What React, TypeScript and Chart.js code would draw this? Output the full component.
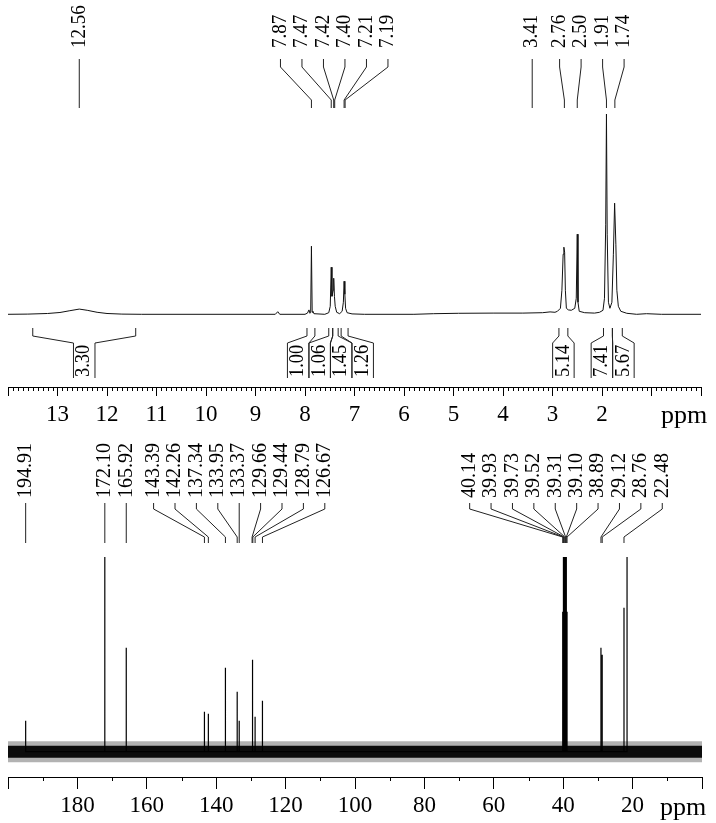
import React, { useEffect, useRef } from "react";
import { Chart, registerables } from "chart.js";
Chart.register(...registerables);

const FONT = "'Liberation Serif', 'Times New Roman', serif";

// ---------- 1H spectrum (ppm, relative intensity) ----------
const H_PPM = [
  14.0, 13.6, 13.2, 12.95, 12.75, 12.56, 12.4, 12.2, 12.0, 11.7, 11.3, 8.6, 8.55, 8.51,
  8.0, 7.95, 7.92, 7.9, 7.885, 7.87, 7.855, 7.84, 7.82, 7.6, 7.52, 7.49, 7.47, 7.455,
  7.43, 7.42, 7.405, 7.39, 7.36, 7.3, 7.25, 7.225, 7.21, 7.195, 7.18, 7.15, 7.05, 6.8,
  5.8, 5.4, 4.9, 4.2, 3.6, 3.2, 3.05, 2.95, 2.9, 2.84, 2.81, 2.785, 2.77, 2.755, 2.74,
  2.72, 2.68, 2.62, 2.55, 2.52, 2.5, 2.485, 2.46, 2.35, 2.15, 2.05, 1.98, 1.95, 1.925,
  1.91, 1.895, 1.87, 1.84, 1.8, 1.77, 1.745, 1.72, 1.7, 1.67, 1.62, 1.5, 1.3, 1.1, 0.8, 0.0,
];
const H_INT = [
  0, 0.1, 0.4, 0.9, 1.8, 2.6, 2.0, 1.0, 0.4, 0.1, 0, 0, 1.3, 0,
  0, 0.6, 2.2, 0.5, 1.0, 34, 1.0, 1.5, 0.3, 0, 0.8, 4, 23.5, 9,
  12, 18, 9, 4, 1, 0.3, 1.5, 6, 16.5, 10, 3, 0.8, 0.2, 0,
  0, 0.3, 0.5, 0.6, 0.6, 0.8, 1.2, 1.0, 1.5, 3, 12, 30, 33.5, 31, 12,
  3, 2.2, 2.0, 3, 8, 40, 6, 1.5, 0.8, 0.6, 1.0, 2, 8, 45,
  100, 40, 6, 3, 6, 30, 55.5, 35, 12, 4, 1.5, 0.5, 0, 0.3, 0, 0,
];
const H_PEAK_LABELS = [12.56, 7.87, 7.47, 7.42, 7.4, 7.21, 7.19, 3.41, 2.76, 2.5, 1.91, 1.74];
const H_INTEGRAL_VALUES = [3.3, 1.0, 1.06, 1.45, 1.26, 5.14, 7.41, 5.67];
const H_INTEGRAL_FROM = [13.5, 7.96, 7.52, 7.44, 7.27, 2.87, 1.97, 1.79];
const H_INTEGRAL_TO = [11.42, 7.8, 7.44, 7.33, 7.13, 2.69, 1.79, 1.59];
const H_TICK_LABELS = [13, 12, 11, 10, 9, 8, 7, 6, 5, 4, 3, 2];

// ---------- 13C spectrum (ppm, relative intensity; >195 is off-scale) ----------
const C_PEAK_PPM = [
  194.91, 172.1, 165.92, 143.39, 142.26, 137.34, 133.95, 133.37, 129.66, 129.44, 128.79, 126.67,
  40.14, 39.93, 39.73, 39.52, 39.31, 39.1, 38.89, 29.12, 28.76, 22.48, 21.6,
];
const C_PEAK_INT = [
  31, 400, 104, 40, 38, 84, 60, 31, 92, 50, 35, 51,
  140, 400, 400, 400, 400, 400, 140, 104, 97, 144, 400,
];
const C_PEAK_LABELS = [
  194.91, 172.1, 165.92, 143.39, 142.26, 137.34, 133.95, 133.37, 129.66, 129.44, 128.79, 126.67,
  40.14, 39.93, 39.73, 39.52, 39.31, 39.1, 38.89, 29.12, 28.76, 22.48,
];
const C_TICK_LABELS = [180, 160, 140, 120, 100, 80, 60, 40, 20];

// spread label positions (pixels, ascending) so neighbours keep a minimum gap
function spread(xs: number[], gap: number, mode: "median" | "mean"): number[] {
  let groups = xs.map((x, i) => ({ idx: [i], center: x }));
  let changed = true;
  while (changed) {
    changed = false;
    for (let i = 0; i < groups.length - 1; i++) {
      const a = groups[i];
      const b = groups[i + 1];
      const aEnd = a.center + ((a.idx.length - 1) * gap) / 2;
      const bStart = b.center - ((b.idx.length - 1) * gap) / 2;
      if (bStart - aEnd < gap - 0.05) {
        const idx = a.idx.concat(b.idx);
        const vals = idx.map((k) => xs[k]).sort((p, q) => p - q);
        let c: number;
        if (mode === "mean") c = vals.reduce((s, v) => s + v, 0) / vals.length;
        else
          c = vals.length % 2
            ? vals[(vals.length - 1) / 2]
            : (vals[vals.length / 2 - 1] + vals[vals.length / 2]) / 2;
        groups.splice(i, 2, { idx, center: c });
        changed = true;
        break;
      }
    }
  }
  const out: number[] = new Array(xs.length);
  groups.forEach((g) =>
    g.idx.forEach((k, j) => {
      out[k] = g.center + (j - (g.idx.length - 1) / 2) * gap;
    })
  );
  return out;
}

function vText(ctx: CanvasRenderingContext2D, s: string, x: number, y: number, size: number, along: number) {
  ctx.save();
  ctx.translate(x, y);
  ctx.rotate(-Math.PI / 2);
  ctx.scale(along, 1);
  ctx.font = `${size}px ${FONT}`;
  ctx.textAlign = "left";
  ctx.textBaseline = "middle";
  ctx.fillStyle = "#000";
  ctx.fillText(s, 0, 0);
  ctx.restore();
}

function peakLabels(
  ctx: CanvasRenderingContext2D,
  xs: any,
  labels: number[],
  gap: number,
  yText: number,
  y0: number,
  y1: number,
  y2: number,
  y3: number,
  size: number,
  along: number
) {
  const px = labels.map((v) => xs.getPixelForValue(v));
  const lx = spread(px, gap, "median");
  ctx.save();
  ctx.strokeStyle = "#222";
  ctx.lineWidth = 1;
  labels.forEach((v, i) => {
    ctx.beginPath();
    ctx.moveTo(lx[i], y0);
    ctx.lineTo(lx[i], y1);
    ctx.lineTo(px[i], y2);
    ctx.lineTo(px[i], y3);
    ctx.stroke();
    vText(ctx, v.toFixed(2), lx[i], yText, size, along);
  });
  ctx.restore();
}

const topPlugin = {
  id: "hAnnotations",
  afterDraw(chart: any) {
    const ctx: CanvasRenderingContext2D = chart.ctx;
    const xs = chart.scales.x;
    const axisY = chart.chartArea.bottom;
    ctx.save();
    // minor ticks
    ctx.strokeStyle = "#000";
    ctx.lineWidth = 1;
    ctx.beginPath();
    for (let k = 0; k <= 140; k++) {
      if (k % 10 === 0) continue;
      const p = Math.round(xs.getPixelForValue(k / 10)) + 0.5;
      ctx.moveTo(p, axisY);
      ctx.lineTo(p, axisY + 4);
    }
    ctx.stroke();
    // ppm
    ctx.font = `26px ${FONT}`;
    ctx.fillStyle = "#000";
    ctx.textAlign = "center";
    ctx.textBaseline = "alphabetic";
    ctx.fillText("ppm", 684, 423);
    // peak labels
    peakLabels(ctx, xs, H_PEAK_LABELS, 21.5, 48, 59, 67, 100, 108, 20, 0.95);
    // integrals
    const x1 = H_INTEGRAL_FROM.map((v) => xs.getPixelForValue(v));
    const x2 = H_INTEGRAL_TO.map((v) => xs.getPixelForValue(v));
    const centers = x1.map((a, i) => (a + x2[i]) / 2);
    const w = 21.5;
    const bc = spread(centers, w, "mean");
    ctx.strokeStyle = "#222";
    H_INTEGRAL_VALUES.forEach((val, i) => {
      ctx.beginPath();
      ctx.moveTo(x1[i], 328);
      ctx.lineTo(x1[i], 336);
      ctx.lineTo(bc[i] - w / 2, 343);
      ctx.lineTo(bc[i] - w / 2, 378);
      ctx.moveTo(x2[i], 328);
      ctx.lineTo(x2[i], 336);
      ctx.lineTo(bc[i] + w / 2, 343);
      ctx.lineTo(bc[i] + w / 2, 378);
      ctx.stroke();
      vText(ctx, val.toFixed(2), bc[i], 377, 20, 0.92);
    });
    ctx.restore();
  },
};

const OFF = 432;
const botPlugin = {
  id: "cAnnotations",
  afterDraw(chart: any) {
    const ctx: CanvasRenderingContext2D = chart.ctx;
    const xs = chart.scales.x;
    const axisY = chart.chartArea.bottom;
    ctx.save();
    ctx.strokeStyle = "#000";
    ctx.lineWidth = 1;
    ctx.beginPath();
    for (let v = 10; v < 200; v += 20) {
      const p = Math.round(xs.getPixelForValue(v)) + 0.5;
      ctx.moveTo(p, axisY);
      ctx.lineTo(p, axisY + 4);
    }
    ctx.stroke();
    ctx.font = `26px ${FONT}`;
    ctx.fillStyle = "#000";
    ctx.textAlign = "center";
    ctx.textBaseline = "alphabetic";
    ctx.fillText("ppm", 683, 815 - OFF);
    peakLabels(ctx, xs, C_PEAK_LABELS, 21.4, 498 - OFF, 503 - OFF, 509 - OFF, 537 - OFF, 543 - OFF, 20, 1);
    ctx.restore();
  },
};

export default function App() {
  const topRef = useRef<HTMLCanvasElement>(null);
  const botRef = useRef<HTMLCanvasElement>(null);

  useEffect(() => {
    const tickFont = { family: FONT, size: 23 };
    const c1 = new Chart(topRef.current as HTMLCanvasElement, {
      type: "line",
      data: {
        datasets: [
          {
            data: H_PPM.map((x, i) => ({ x, y: H_INT[i] })),
            borderColor: "#111",
            borderWidth: 1,
            pointRadius: 0,
            tension: 0,
            fill: false,
          },
        ],
      },
      options: {
        animation: false,
        responsive: false,
        events: [],
        layout: { padding: { left: 8, right: 15, top: 105, bottom: 0 } },
        plugins: { legend: { display: false }, tooltip: { enabled: false } },
        scales: {
          x: {
            type: "linear",
            min: 0,
            max: 14,
            reverse: true,
            position: "bottom",
            afterFit: (s: any) => {
              s.height = 45;
            },
            border: { display: true, color: "#000", width: 1 },
            grid: { display: true, drawOnChartArea: false, drawTicks: true, tickLength: 9, color: "#000", lineWidth: 1 },
            ticks: {
              stepSize: 1,
              autoSkip: false,
              maxRotation: 0,
              padding: 5,
              color: "#000",
              font: tickFont,
              callback: (v: any) => (H_TICK_LABELS.includes(Number(v)) ? String(v) : ""),
            },
          },
          y: { display: false, min: -36.3, max: 104.5 },
        },
      } as any,
      plugins: [topPlugin],
    });

    const sticks: { x: number; y: number }[] = [];
    C_PEAK_PPM.forEach((p, i) => {
      sticks.push({ x: p, y: 0 }, { x: p, y: C_PEAK_INT[i] }, { x: p, y: 0 });
    });

    const c2 = new Chart(botRef.current as HTMLCanvasElement, {
      type: "line",
      data: {
        datasets: [
          {
            data: sticks,
            borderColor: "#000",
            borderWidth: 1.2,
            pointRadius: 0,
            tension: 0,
            fill: false,
            order: 1,
          },
          {
            data: [
              { x: 200, y: 0 },
              { x: 0, y: 0 },
            ],
            borderColor: "#0c0c0c",
            borderWidth: 12,
            borderCapStyle: "butt",
            pointRadius: 0,
            fill: false,
            order: 2,
          },
          {
            data: [
              { x: 200, y: 0 },
              { x: 0, y: 0 },
            ],
            borderColor: "rgba(0,0,0,0.3)",
            borderWidth: 21,
            borderCapStyle: "butt",
            pointRadius: 0,
            fill: false,
            order: 3,
          },
        ],
      },
      options: {
        animation: false,
        responsive: false,
        events: [],
        layout: { padding: { left: 8, right: 14, top: 125, bottom: 0 } },
        plugins: { legend: { display: false }, tooltip: { enabled: false } },
        scales: {
          x: {
            type: "linear",
            min: 0,
            max: 200,
            reverse: true,
            position: "bottom",
            afterFit: (s: any) => {
              s.height = 46;
            },
            border: { display: true, color: "#000", width: 1 },
            grid: { display: true, drawOnChartArea: false, drawTicks: true, tickLength: 12, color: "#000", lineWidth: 1 },
            ticks: {
              stepSize: 20,
              autoSkip: false,
              maxRotation: 0,
              padding: 3,
              color: "#000",
              font: tickFont,
              callback: (v: any) => (C_TICK_LABELS.includes(Number(v)) ? String(v) : ""),
            },
          },
          y: { display: false, min: -25.3, max: 194.7 },
        },
      } as any,
      plugins: [botPlugin],
    });

    return () => {
      c1.destroy();
      c2.destroy();
    };
  }, []);

  return (
    <div style={{ position: "absolute", left: 0, top: 0, width: 716, height: 823, background: "#fff" }}>
      <canvas ref={topRef} width={716} height={432} style={{ display: "block" }} />
      <canvas ref={botRef} width={716} height={391} style={{ display: "block" }} />
    </div>
  );
}
